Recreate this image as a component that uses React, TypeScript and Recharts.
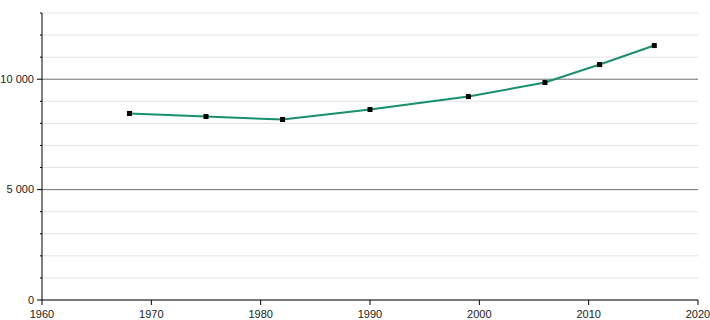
import { CartesianGrid, Line, LineChart, ReferenceLine, XAxis, YAxis } from 'recharts';

document.body.style.margin = '0';

const years = [1968, 1975, 1982, 1990, 1999, 2006, 2011, 2016];
const population = [8450, 8310, 8175, 8630, 9215, 9850, 10665, 11525];
const yearTicks = [1960, 1970, 1980, 1990, 2000, 2010, 2020];
const valueTicks = [0, 1000, 2000, 3000, 4000, 5000, 6000, 7000, 8000, 9000, 10000, 11000, 12000, 13000];
const majorValues = [0, 5000, 10000];

const data = years.map((year, i) => ({ year, value: population[i] }));

const font = '"Liberation Sans", Arial, sans-serif';

function formatValue(v: number) {
  return v.toLocaleString('en-US').replace(/,/g, ' ');
}

function YTick(props: any) {
  const { x, y, payload } = props;
  const major = majorValues.includes(payload.value);
  if (!major) return null;
  return (
    <g>
      <line x1={x - 3} x2={x} y1={y} y2={y} stroke="#000" />
      <text x={x - 6} y={y} dy="0.35em" textAnchor="end" fontSize={11} fontFamily={font} fill="#222">
        {formatValue(payload.value)}
      </text>
    </g>
  );
}

function Square(props: any) {
  const { cx, cy } = props;
  if (cx == null || cy == null) return null;
  return <rect x={cx - 2.5} y={cy - 2.5} width={5} height={5} fill="#000" />;
}

export default function App() {
  return (
    <LineChart width={710} height={320} data={data} margin={{ top: 13, right: 12, bottom: 0, left: 0 }}>
      <CartesianGrid vertical={false} stroke="#e4e4e4" />
      <ReferenceLine y={5000} stroke="#777" />
      <ReferenceLine y={10000} stroke="#777" />
      <XAxis
        dataKey="year"
        type="number"
        domain={[1960, 2020]}
        ticks={yearTicks}
        height={20}
        tickSize={5}
        tickMargin={5}
        stroke="#000"
        tick={{ fontSize: 11, fontFamily: font, fill: '#222' }}
      />
      <YAxis
        domain={[0, 13000]}
        ticks={valueTicks}
        width={42}
        tickSize={2}
        tickMargin={0}
        stroke="#000"
        interval={0}
        tick={<YTick />}
      />
      <Line
        dataKey="value"
        stroke="#16906d"
        strokeWidth={2}
        dot={<Square />}
        activeDot={false}
        isAnimationActive={false}
      />
    </LineChart>
  );
}
